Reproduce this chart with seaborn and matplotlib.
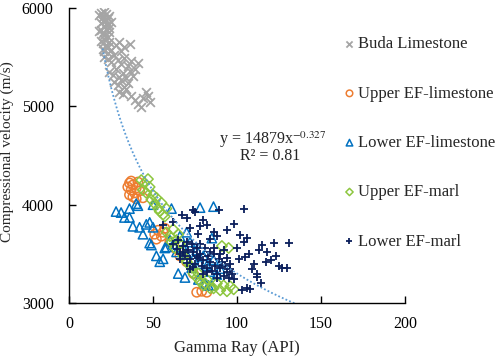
import numpy as np
import pandas as pd
import matplotlib
matplotlib.use("Agg")
import matplotlib.pyplot as plt
import seaborn as sns

# Values (Gamma Ray in API, Vp in m/s)
buda_gr = [18, 19, 20, 21, 22, 23, 24, 19, 20, 21, 22, 23, 24, 25, 18, 19, 20, 21, 22, 23, 24,
           19, 20, 21, 22, 23, 24, 20, 21, 22, 23, 25, 28, 30, 33, 36, 31,
           21, 23, 25, 27, 29, 31, 33, 35, 37, 39, 41, 24, 26, 28, 30, 32, 34, 36, 38,
           27, 29, 31, 33, 35, 30, 32, 34, 37, 39, 41, 44, 46, 48, 47, 43]
buda_vp = [5930, 5950, 5910, 5960, 5940, 5900, 5920, 5850, 5870, 5820, 5880, 5840, 5800, 5860,
           5760, 5780, 5740, 5720, 5790, 5700, 5750, 5660, 5640, 5680, 5620, 5600, 5650,
           5580, 5560, 5600, 5540, 5570, 5620, 5650, 5600, 5630, 5560,
           5500, 5480, 5450, 5520, 5470, 5430, 5490, 5410, 5460, 5380, 5440,
           5350, 5320, 5380, 5300, 5340, 5290, 5360, 5310, 5250, 5220, 5270, 5200, 5240,
           5150, 5120, 5180, 5100, 5060, 5020, 5080, 5140, 5040, 5100, 4990]

up_lime_gr = [35, 36, 37, 38, 39, 40, 41, 36, 38, 40, 42, 44, 37, 51, 53, 55, 57, 52, 56,
              60, 63, 66, 70, 74, 76, 79, 82]
up_lime_vp = [4180, 4220, 4150, 4200, 4120, 4170, 4230, 4100, 4080, 4060, 4140, 4070, 4240,
              3700, 3740, 3680, 3760, 3650, 3720, 3620, 3560, 3480, 3420, 3300, 3110, 3120, 3110]

low_lime_gr = [28, 31, 33, 36, 36, 38, 40, 41, 42, 44, 46, 48, 48, 50, 50, 49, 52, 54, 56, 57, 58, 61,
               60, 62, 64, 66, 68, 70, 72, 74, 76, 78, 80, 82, 84, 86,
               65, 69, 73, 77, 81, 85, 88, 90, 78, 86, 85, 83, 70]
low_lime_vp = [3930, 3920, 3870, 3960, 3870, 3780, 4010, 3990, 3770, 3700, 3800, 3820, 3610, 3770,
               4000, 3590, 3480, 3420, 3450, 3560, 3570, 3960,
               3640, 3600, 3520, 3680, 3560, 3500, 3620, 3450, 3540, 3400, 3480, 3380, 3320, 3440,
               3300, 3260, 3360, 3240, 3200, 3180, 3290, 3350, 3970, 3980, 3660, 3180, 3720]

up_marl_gr = [43, 45, 47, 44, 46, 48, 50, 49, 51, 53, 52, 55, 54, 56, 58, 57,
              58, 60, 62, 64, 66, 63, 67, 65, 61,
              68, 70, 72, 74, 76, 78, 80, 82, 84, 73, 77, 81,
              86, 88, 90, 92, 94, 96, 98, 91, 95]
up_marl_vp = [4250, 4220, 4260, 4150, 4120, 4180, 4100, 4050, 4010, 3960, 4070, 4020, 3930, 3900, 3960, 3880,
              3720, 3680, 3750, 3640, 3600, 3560, 3520, 3700, 3620,
              3480, 3420, 3380, 3300, 3260, 3220, 3180, 3240, 3150, 3360, 3300, 3200,
              3150, 3200, 3130, 3180, 3120, 3170, 3140, 3580, 3560]

low_marl_gr = [56, 62, 67, 70, 74, 75, 78, 80, 82, 86, 89, 94, 98, 104, 88, 72, 77, 84,
               62, 64, 65, 66, 68, 69, 70, 71, 72, 73, 74, 75, 76, 77, 78, 79, 80, 81, 82, 83,
               84, 85, 86, 87, 88, 89, 90, 91, 92, 93, 94, 95, 96, 97, 98,
               66, 70, 74, 78, 82, 86, 90, 94, 68, 72, 76, 80, 84, 88, 92, 96,
               100, 102, 104, 106, 101, 107, 110, 112, 115, 118, 120, 122, 123, 125, 127, 130, 131,
               106, 103, 108, 112, 117, 113, 109, 105, 114]
low_marl_vp = [3790, 3820, 3895, 3860, 3945, 3925, 3780, 3845, 3790, 3720, 3945, 3740, 3800, 3955, 3680, 3760, 3700, 3650,
               3600, 3550, 3640, 3500, 3580, 3480, 3620, 3540, 3450, 3600, 3520, 3400, 3560, 3460, 3500, 3380, 3440, 3560, 3360, 3480,
               3420, 3330, 3500, 3380, 3300, 3450, 3360, 3420, 3280, 3380, 3320, 3260, 3400, 3300, 3240,
               3450, 3410, 3370, 3600, 3320, 3560, 3500, 3460, 3520, 3350, 3480, 3300, 3520, 3250, 3540, 3350,
               3560, 3690, 3620, 3660, 3450, 3500, 3400, 3265, 3590, 3520, 3440, 3610, 3480, 3380, 3355, 3355, 3610,
               3150, 3130, 3140, 3300, 3420, 3540, 3350, 3470, 3200]

# power-law trendline shown on the chart
fit_a = 14879
fit_b = -0.327
fit_x0, fit_x1 = 20, 135

series = [
    ("Buda Limestone", buda_gr, buda_vp, "x", "#A5A5A5", False),
    ("Upper EF-limestone", up_lime_gr, up_lime_vp, "o", "#ED7D31", True),
    ("Lower EF-limestone", low_lime_gr, low_lime_vp, "^", "#0070C0", True),
    ("Upper EF-marl", up_marl_gr, up_marl_vp, "D", "#8DC63F", True),
    ("Lower EF-marl", low_marl_gr, low_marl_vp, "+", "#0B1F5C", False),
]

sns.set_style("ticks")
plt.rcParams["font.family"] = ["Liberation Serif", "DejaVu Serif"]
plt.rcParams["mathtext.fontset"] = "stix"

fig = plt.figure(figsize=(4.98, 3.57), dpi=100)
ax = fig.add_axes([0.1386, 0.151, 0.6747, 0.827])

for name, gr, vp, mk, col, hollow in series:
    df = pd.DataFrame({"gr": gr, "vp": vp})
    if hollow:
        size = 45 if mk != "D" else 28
        sns.scatterplot(data=df, x="gr", y="vp", ax=ax, marker=mk, s=size,
                        facecolor="none", edgecolor=col, linewidth=1.1, label=name)
    else:
        sns.scatterplot(data=df, x="gr", y="vp", ax=ax, marker=mk, s=40,
                        color=col, linewidth=1.3, label=name)

xs = np.linspace(fit_x0, fit_x1, 200)
ax.plot(xs, fit_a * xs ** fit_b, linestyle=(0, (1, 1.2)), color="#5B9BD5", linewidth=1.3)

ax.set_xlim(0, 200)
ax.set_ylim(3000, 6000)
ax.set_xticks([0, 50, 100, 150, 200])
ax.set_yticks([3000, 4000, 5000, 6000])
ax.tick_params(direction="in", length=5, width=1, labelsize=11.5, colors="black")
ax.tick_params(axis="x", pad=9)
ax.tick_params(axis="y", pad=11)
for sp in ["left", "bottom"]:
    ax.spines[sp].set_color("black")
    ax.spines[sp].set_linewidth(1)
sns.despine(ax=ax)

ax.set_xlabel("Gamma Ray (API)", fontsize=12, labelpad=6)
ax.set_ylabel("Compressional velocity (m/s)", fontsize=11)
ax.yaxis.set_label_coords(-0.163, 0.512)

ax.text(121.5, 4660, r"y = 14879x$^{-0.327}$", ha="center", va="center", fontsize=11.5)
ax.text(120, 4490, "R² = 0.81", ha="center", va="center", fontsize=11.5)

ax.legend(loc="upper left", bbox_to_anchor=(0.8, 0.926), frameon=False, fontsize=12,
          labelspacing=2.0, handlelength=0.6, handletextpad=0.2, markerscale=0.7,
          borderaxespad=0)

fig.savefig("out.png", dpi=100)
